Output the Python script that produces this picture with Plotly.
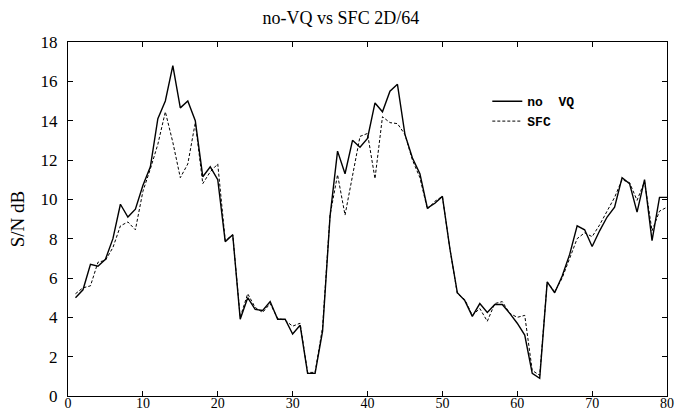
import plotly.graph_objects as go

frames = list(range(1, 81))

no_vq = [5.0, 5.4, 6.7, 6.6, 6.95, 8.0, 9.75, 9.1, 9.5, 10.7,
         11.65, 14.1, 15.0, 16.8, 14.65, 15.0, 14.0, 11.15, 11.65, 11.0,
         7.85, 8.2, 3.9, 5.0, 4.4, 4.35, 4.8, 3.9, 3.9, 3.15,
         3.6, 1.15, 1.15, 3.3, 9.15, 12.45, 11.3, 13.0, 12.65, 13.1,
         14.9, 14.45, 15.5, 15.85, 13.3, 12.1, 11.3, 9.55, 9.8, 10.15,
         7.5, 5.25, 4.85, 4.05, 4.7, 4.25, 4.65, 4.65, 4.2, 3.7,
         3.1, 1.15, 0.9, 5.8, 5.25, 6.1, 7.2, 8.65, 8.45, 7.6,
         8.4, 9.1, 9.6, 11.1, 10.8, 9.35, 11.0, 7.9, 10.1, 10.1]

sfc = [5.2, 5.5, 5.6, 6.8, 6.9, 7.55, 8.65, 8.85, 8.45, 10.4,
       11.55, 12.8, 14.45, 12.9, 11.1, 11.8, 13.9, 10.8, 11.4, 11.8,
       7.9, 8.2, 4.0, 5.2, 4.5, 4.25, 4.7, 3.95, 3.85, 3.55,
       3.7, 1.2, 1.2, 3.5, 9.2, 11.25, 9.2, 11.3, 13.2, 13.35,
       11.05, 14.2, 13.9, 13.85, 13.3, 12.0, 11.1, 9.5, 9.9, 10.15,
       7.5, 5.2, 4.9, 4.1, 4.45, 3.8, 4.7, 4.8, 4.2, 4.0,
       4.1, 1.3, 1.05, 5.8, 5.3, 6.0, 7.0, 8.0, 8.3, 8.1,
       8.7, 9.4, 10.1, 11.0, 10.85, 9.95, 10.9, 8.4, 9.4, 9.6]

x_ticks = [0, 10, 20, 30, 40, 50, 60, 70, 80]
y_ticks = [0, 2, 4, 6, 8, 10, 12, 14, 16, 18]

fig = go.Figure()
fig.add_trace(go.Scatter(x=frames, y=no_vq, mode="lines", name="no  VQ",
                         line=dict(color="black", width=1.4)))
fig.add_trace(go.Scatter(x=frames, y=sfc, mode="lines", name="SFC",
                         line=dict(color="black", width=1, dash="3px,2px")))

serif = "Liberation Serif"
fig.update_layout(
    width=675, height=412,
    margin=dict(l=68, r=8, t=42, b=16),
    paper_bgcolor="white", plot_bgcolor="white",
    title=dict(text="no-VQ vs SFC 2D/64", x=0.505, xanchor="center", y=0.958, yanchor="middle",
               font=dict(family=serif, size=18, color="black")),
    showlegend=True,
    legend=dict(x=0.70, y=0.875, xanchor="left", yanchor="top", bgcolor="rgba(0,0,0,0)",
                font=dict(family="Liberation Mono", size=13, color="black", weight="bold"),
                itemwidth=30, tracegroupgap=0),
    xaxis=dict(range=[0, 80], tickvals=x_ticks, showgrid=False, zeroline=False,
               showline=True, linecolor="black", linewidth=1, mirror="ticks",
               ticks="inside", ticklen=5, tickcolor="black", automargin=False,
               ticklabeloverflow="allow", ticklabelstandoff=-6,
               tickfont=dict(family=serif, size=14, color="black")),
    yaxis=dict(range=[0, 18], tickvals=y_ticks, showgrid=False, zeroline=False,
               showline=True, linecolor="black", linewidth=1, mirror="ticks",
               ticks="inside", ticklen=5, tickcolor="black", automargin=False,
               ticklabelstandoff=6,
               title=dict(text="S/N dB", font=dict(family=serif, size=19, color="black"), standoff=10),
               tickfont=dict(family=serif, size=17, color="black")),
)

fig.write_html("out.html", config={"displayModeBar": False},
               post_script="document.body.style.margin='0';document.body.style.overflow='hidden';")
